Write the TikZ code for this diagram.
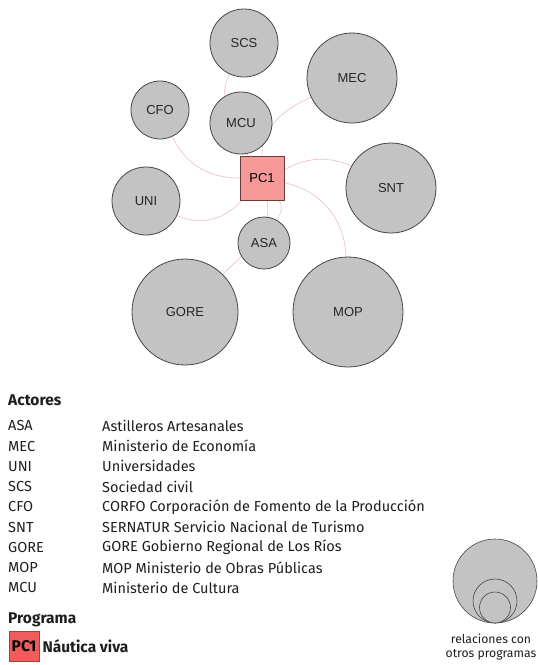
\documentclass[tikz,border=0pt]{standalone}
\usepackage{fontspec}
\setmainfont{Fira Sans}
\newfontfamily\arialfont{Liberation Sans}
\usepackage{tikz}
\usetikzlibrary{positioning, backgrounds}
\definecolor{actorfill}{RGB}{195,195,195}
\definecolor{actordraw}{RGB}{70,70,70}
\definecolor{progfill}{RGB}{245,152,152}
\definecolor{progdraw}{RGB}{105,60,60}
\definecolor{relcol}{RGB}{236,196,196}
\definecolor{legprog}{RGB}{240,92,92}
\definecolor{legprogdraw}{RGB}{185,55,55}
\definecolor{txt}{RGB}{30,30,30}
\tikzset{
  actor/.style={circle, draw=actordraw, fill=actorfill, line width=0.8pt,
    inner sep=0pt, font=\arialfont\fontsize{13}{15}\selectfont, text=black!85},
  prog/.style={rectangle, draw=progdraw, fill=progfill, line width=0.8pt,
    minimum size=44pt, inner sep=0pt, font=\arialfont\fontsize{13}{15}\selectfont},
  rel/.style={draw=relcol, line width=0.7pt},
  legtxt/.style={anchor=west, inner sep=0pt, text=txt,
    font=\fontsize{14.5}{16}\selectfont},
  leghead/.style={legtxt, font=\fontsize{15.5}{17}\selectfont\bfseries},
  legcirc/.style={circle, draw=actordraw, fill=actorfill, line width=0.6pt,
    inner sep=0pt},
}

\begin{document}
\begin{tikzpicture}[x=1pt, y=-1pt]
  \useasboundingbox (0,0) rectangle (538,665);

  % actors and program
  \node[prog] (pc1) at (262,178) {PC1};
  \node[actor, minimum size=68pt]  (scs)  at (244,43)  {SCS};
  \node[actor, minimum size=90pt]  (mec)  at (352,78)  {MEC};
  \node[actor, minimum size=58pt]  (cfo)  at (160,110) {CFO};
  \node[actor, minimum size=62pt]  (mcu)  at (241,123) {MCU};
  \node[actor, minimum size=90pt]  (snt)  at (391,188) {SNT};
  \node[actor, minimum size=68pt]  (uni)  at (146,201) {UNI};
  \node[actor, minimum size=52pt]  (asa)  at (264,243) {ASA};
  \node[actor, minimum size=106pt] (gore) at (185,312) {GORE};
  \node[actor, minimum size=110pt] (mop)  at (348,312) {MOP};

  % relations
  \begin{scope}[on background layer]
    \draw[rel] (pc1) to[out=122, in=-115] (scs);
    \draw[rel] (pc1) to[out=90, in=205] (mec);
    \draw[rel] (pc1) to[out=180, in=-65] (cfo);
    \draw[rel] (pc1) to[out=228, in=-25] (uni);
    \draw[rel] (pc1) to[bend left=25] (snt);
    \draw[rel] (pc1) to[out=-12, in=92] (mop);
    \draw[rel] (pc1) to[out=-53, in=60] (asa);
    \draw[rel] (pc1) to[out=-78, in=45] (gore);
  \end{scope}

  % legend
  \node[leghead] (actores) at (8,400) {Actores};
  \foreach \ab/\nm [count=\i] in {ASA/Astilleros Artesanales,
      MEC/Ministerio de Economía, UNI/Universidades, SCS/Sociedad civil,
      CFO/CORFO Corporación de Fomento de la Producción,
      SNT/SERNATUR Servicio Nacional de Turismo,
      GORE/GORE Gobierno Regional de Los Ríos,
      MOP/MOP Ministerio de Obras Públicas, MCU/Ministerio de Cultura}
  {
    \node[legtxt] (ab\i) at (8,405.6+20.25*\i) {\ab};
    \node[legtxt] (nm\i) at (102,405.6+20.25*\i) {\nm};
  }
  \node[leghead] (programa) at (8,620) {Programa};
  \node[draw=legprogdraw, fill=legprog, line width=0.6pt, minimum width=30pt,
    minimum height=30pt, inner sep=0pt, font=\fontsize{15.5}{17}\selectfont\bfseries,
    text=black] (legpc1) at (24,646) {PC1};
  \node[leghead, right=3pt of legpc1] (nautica) {Náutica viva};

  \node[legcirc, minimum size=84pt] (legbig) at (495,581) {};
  \node[legcirc, minimum size=44pt, above=0pt of legbig.south, anchor=south] (legmid) {};
  \node[legcirc, minimum size=31pt, above=0pt of legbig.south, anchor=south] (legsmall) {};
  \node[align=center, inner sep=0pt, text=txt, font=\fontsize{12.2}{14}\selectfont]
    (legrel) at (491,647) {relaciones con\\otros programas};
\end{tikzpicture}
\end{document}
